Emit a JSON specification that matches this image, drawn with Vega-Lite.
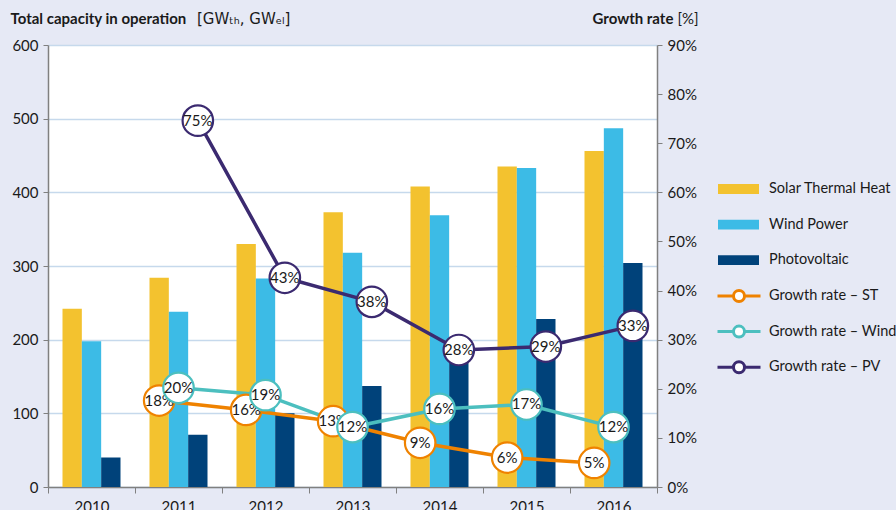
{
  "$schema": "https://vega.github.io/schema/vega-lite/v6.json",
  "width": 609,
  "height": 442,
  "autosize": {"type": "none"},
  "padding": {"left": 48, "top": 45, "right": 239, "bottom": 23},
  "background": "#e6e9f5",
  "config": {
    "font": "Lato",
    "view": {"fill": "white", "stroke": null},
    "axis": {
      "labelFont": "Lato", "labelFontSize": 15, "labelColor": "#1a1a1a",
      "domainColor": "#808080", "tickColor": "#808080", "domainWidth": 1.5,
      "titleFont": "Lato", "titleFontSize": 15, "titleColor": "#1a1a1a",
      "gridColor": "#c6d9ec", "gridWidth": 1.5
    },
    "legend": {"labelFont": "Lato", "labelFontSize": 14.5, "labelColor": "#1a1a1a"}
  },
  "title": {
    "text": "[GWₜₕ, GWₑₗ]",
    "anchor": "start", "frame": "group", "dx": 149, "dy": 20,
    "fontSize": 15, "fontWeight": "normal", "font": "DejaVu Sans", "color": "#1a1a1a"
  },
  "datasets": {
    "bars": [
      {"year": "2010", "group": "ST", "series": "Solar Thermal Heat", "value": 242},
      {"year": "2010", "group": "Wind", "series": "Wind Power", "value": 198},
      {"year": "2010", "group": "PV", "series": "Photovoltaic", "value": 40},
      {"year": "2011", "group": "ST", "series": "Solar Thermal Heat", "value": 284},
      {"year": "2011", "group": "Wind", "series": "Wind Power", "value": 238},
      {"year": "2011", "group": "PV", "series": "Photovoltaic", "value": 71},
      {"year": "2012", "group": "ST", "series": "Solar Thermal Heat", "value": 330},
      {"year": "2012", "group": "Wind", "series": "Wind Power", "value": 283},
      {"year": "2012", "group": "PV", "series": "Photovoltaic", "value": 100},
      {"year": "2013", "group": "ST", "series": "Solar Thermal Heat", "value": 373},
      {"year": "2013", "group": "Wind", "series": "Wind Power", "value": 318},
      {"year": "2013", "group": "PV", "series": "Photovoltaic", "value": 137},
      {"year": "2014", "group": "ST", "series": "Solar Thermal Heat", "value": 408},
      {"year": "2014", "group": "Wind", "series": "Wind Power", "value": 369},
      {"year": "2014", "group": "PV", "series": "Photovoltaic", "value": 177},
      {"year": "2015", "group": "ST", "series": "Solar Thermal Heat", "value": 435},
      {"year": "2015", "group": "Wind", "series": "Wind Power", "value": 433},
      {"year": "2015", "group": "PV", "series": "Photovoltaic", "value": 228},
      {"year": "2016", "group": "ST", "series": "Solar Thermal Heat", "value": 456},
      {"year": "2016", "group": "Wind", "series": "Wind Power", "value": 487},
      {"year": "2016", "group": "PV", "series": "Photovoltaic", "value": 304}
    ],
    "rates": [
      {"year": "2011", "group": "ST", "series": "Growth rate – ST", "rate": 0.176},
      {"year": "2012", "group": "ST", "series": "Growth rate – ST", "rate": 0.157},
      {"year": "2013", "group": "ST", "series": "Growth rate – ST", "rate": 0.134},
      {"year": "2014", "group": "ST", "series": "Growth rate – ST", "rate": 0.09},
      {"year": "2015", "group": "ST", "series": "Growth rate – ST", "rate": 0.06},
      {"year": "2016", "group": "ST", "series": "Growth rate – ST", "rate": 0.049},
      {"year": "2011", "group": "Wind", "series": "Growth rate – Wind", "rate": 0.202},
      {"year": "2012", "group": "Wind", "series": "Growth rate – Wind", "rate": 0.187},
      {"year": "2013", "group": "Wind", "series": "Growth rate – Wind", "rate": 0.122},
      {"year": "2014", "group": "Wind", "series": "Growth rate – Wind", "rate": 0.159},
      {"year": "2015", "group": "Wind", "series": "Growth rate – Wind", "rate": 0.168},
      {"year": "2016", "group": "Wind", "series": "Growth rate – Wind", "rate": 0.122},
      {"year": "2011", "group": "PV", "series": "Growth rate – PV", "rate": 0.746},
      {"year": "2012", "group": "PV", "series": "Growth rate – PV", "rate": 0.426},
      {"year": "2013", "group": "PV", "series": "Growth rate – PV", "rate": 0.377},
      {"year": "2014", "group": "PV", "series": "Growth rate – PV", "rate": 0.279},
      {"year": "2015", "group": "PV", "series": "Growth rate – PV", "rate": 0.286},
      {"year": "2016", "group": "PV", "series": "Growth rate – PV", "rate": 0.328}
    ]
  },
  "layer": [
    {
      "data": {"name": "bars"},
      "mark": {"type": "bar"},
      "encoding": {
        "x": {
          "field": "year", "type": "ordinal",
          "scale": {"paddingInner": 0, "paddingOuter": 0},
          "axis": {
            "title": "[%]", "titleX": 629, "titleY": -469, "titleAlign": "left", "titleAngle": 0,
            "titleBaseline": "middle", "titleFontWeight": "normal",
            "labelAngle": 0, "tickBand": "extent", "tickSize": 6, "labelPadding": 6
          }
        },
        "xOffset": {
          "field": "group", "type": "nominal",
          "scale": {"domain": ["ST", "Wind", "PV"], "paddingInner": 0, "paddingOuter": 0.75}
        },
        "y": {
          "field": "value", "type": "quantitative",
          "scale": {"domain": [0, 600], "nice": false},
          "axis": {
            "values": [0, 100, 200, 300, 400, 500, 600],
            "title": "Total capacity in operation", "titleX": -38, "titleY": -27,
            "titleAlign": "left", "titleAngle": 0, "titleBaseline": "middle", "titleFontWeight": "bold",
            "tickSize": 5, "labelPadding": 5, "grid": true
          }
        },
        "fill": {
          "field": "series", "type": "nominal",
          "scale": {"domain": ["Solar Thermal Heat", "Wind Power", "Photovoltaic"], "range": ["#f3c22f", "#3cbbe6", "#00427a"]},
          "legend": {
            "orient": "none", "legendX": 670, "legendY": 127, "title": null,
            "symbolType": "M-1,-0.24H1V0.24H-1Z", "symbolSize": 1681, "symbolStrokeWidth": 0,
            "clipHeight": 34, "rowPadding": 1.6, "labelOffset": 10, "labelLimit": 300, "padding": 0
          }
        }
      }
    },
    {
      "data": {"name": "rates"},
      "encoding": {
        "x": {"field": "year", "type": "ordinal"},
        "xOffset": {"field": "group", "type": "nominal"},
        "y": {
          "field": "rate", "type": "quantitative",
          "scale": {"domain": [0, 0.9], "nice": false},
          "axis": {
            "orient": "right", "format": ".0%",
            "values": [0, 0.1, 0.2, 0.3, 0.4, 0.5, 0.6, 0.7, 0.8, 0.9],
            "title": "Growth rate", "titleX": -65, "titleY": -27, "titleAlign": "left",
            "titleAngle": 0, "titleBaseline": "middle", "titleFontWeight": "bold",
            "tickSize": 5, "labelPadding": 5, "grid": false
          }
        }
      },
      "layer": [
        {
          "mark": {"type": "line", "strokeWidth": 3.5},
          "encoding": {
            "stroke": {
              "field": "series", "type": "nominal",
              "scale": {"domain": ["Growth rate – ST", "Growth rate – Wind", "Growth rate – PV"], "range": ["#ef8200", "#4cbfbf", "#3b2a70"]},
              "legend": {
                "orient": "none", "legendX": 668, "legendY": 234, "title": null,
                "symbolType": "M-1,0H-0.256M0.256,0H1M0.256,0A0.256,0.256,0,1,1,-0.256,0A0.256,0.256,0,1,1,0.256,0Z",
                "symbolSize": 1849, "symbolStrokeWidth": 3, "symbolFillColor": "white",
                "clipHeight": 34, "rowPadding": 1.6, "labelOffset": 7, "labelLimit": 300, "padding": 0,
                "encode": {"symbols": {"update": {"fill": {"value": "white"}}}}
              }
            }
          }
        },
        {
          "transform": [{"filter": "datum.group === 'ST'"}],
          "mark": {"type": "point", "filled": true, "fill": "white", "size": 930, "strokeWidth": 2.2, "opacity": 1},
          "encoding": {"stroke": {"field": "series", "type": "nominal"}}
        },
        {
          "transform": [{"filter": "datum.group === 'ST'"}],
          "mark": {"type": "text", "fontSize": 15, "color": "#1a1a1a"},
          "encoding": {"text": {"field": "rate", "type": "quantitative", "format": ".0%"}}
        },
        {
          "transform": [{"filter": "datum.group === 'Wind'"}],
          "mark": {"type": "point", "filled": true, "fill": "white", "size": 930, "strokeWidth": 2.2, "opacity": 1},
          "encoding": {"stroke": {"field": "series", "type": "nominal"}}
        },
        {
          "transform": [{"filter": "datum.group === 'Wind'"}],
          "mark": {"type": "text", "fontSize": 15, "color": "#1a1a1a"},
          "encoding": {"text": {"field": "rate", "type": "quantitative", "format": ".0%"}}
        },
        {
          "transform": [{"filter": "datum.group === 'PV'"}],
          "mark": {"type": "point", "filled": true, "fill": "white", "size": 930, "strokeWidth": 2.2, "opacity": 1},
          "encoding": {"stroke": {"field": "series", "type": "nominal"}}
        },
        {
          "transform": [{"filter": "datum.group === 'PV'"}],
          "mark": {"type": "text", "fontSize": 15, "color": "#1a1a1a"},
          "encoding": {"text": {"field": "rate", "type": "quantitative", "format": ".0%"}}
        }
      ]
    }
  ],
  "resolve": {"scale": {"y": "independent"}}
}
